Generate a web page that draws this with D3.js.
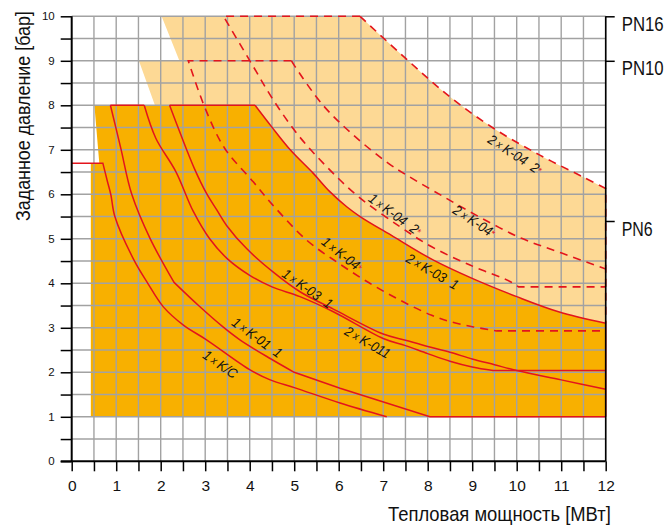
<!DOCTYPE html>
<html><head><meta charset="utf-8">
<script src="https://cdn.jsdelivr.net/npm/d3@7/dist/d3.min.js"></script>
<style>body{margin:0;background:#fff}svg{display:block}</style>
</head><body>
<svg id="chart" width="667" height="526"></svg>
<script>
// ---------- DATA ----------
const xLabels = [0,1,2,3,4,5,6,7,8,9,10,11,12];
const yLabels = [0,1,2,3,4,5,6,7,8,9,10];
const gridStep = 0.5;
const pnLevels = [10, 9, 5.4];
const pnLabels = ["PN16", "PN10", "PN6"];
const xTitle = "Тепловая мощность [МВт]";
const yTitle = "Заданное давление [бар]";

// zone outlines (x = MW, y = bar)
const darkZoneLeft = [[12,1],[0.43,1],[0.43,6.7],[0.62,6.7],[0.51,8]];
const lightZoneLeft = [[12,1],[1.87,1],[1.87,8],[1.51,9],[2.42,9],[2.02,10]];

// solid curves
const kcTop   = [[0,6.7],[0.70,6.7]];
const kcCurve = [[0.70,6.7],[0.80,6.3],[0.88,5.99],[0.97,5.5],[1.40,4.52],[1.71,4.0],[2.06,3.47],[2.51,3.06],[3.03,2.73],[4.0,2.06],[4.46,1.83],[5.02,1.65],[6.03,1.31],[7.08,1.0]];
const k01Curve1 = [[0.87,8],[1.1,7.05],[1.35,6.0],[1.76,5.01],[2.30,4.02]];
const k01Curve2 = [[2.30,4.02],[2.85,3.5],[3.4,3.02],[3.78,2.73],[4.46,2.31],[5.0,2.0]];
const k01Tail   = [[5.0,2.0],[6.03,1.64],[8.05,1.0],[12,1.0]];
const cTop   = [[0.87,8],[1.63,8]];
const cCurve = [[1.63,8],[1.89,7.26],[2.34,6.51],[2.73,5.62],[3.1,5.0],[3.5,4.55],[4.0,4.18],[4.5,3.92],[5.13,3.7],[5.88,3.36],[7.0,2.76],[7.5,2.6],[8.0,2.42],[8.5,2.25],[9.0,2.12],[9.47,2.04]];
const cTail  = [[9.47,2.04],[12,2.04]];
const dTop   = [[2.2,8],[4.12,8]];
const dCurve = [[2.2,8],[2.44,7.37],[2.77,6.55],[3.03,6.02],[3.26,5.65],[3.48,5.3],[3.93,4.78],[4.53,4.25],[5.13,3.81],[5.88,3.42],[7.0,2.86],[7.5,2.72],[8.0,2.58],[8.5,2.45],[9.0,2.3],[9.5,2.17],[10,2.04],[11,1.83],[12,1.62]];
const k03x2Curve = [[4.12,8],[4.49,7.52],[4.91,7.0],[5.43,6.47],[5.8,6.06],[6.18,5.72],[6.48,5.5],[7.23,5.05],[8.13,4.52],[9.0,4.11],[10.0,3.7],[10.94,3.36],[12,3.1]];
const k03x2Tail  = [[12,3.1],[12,1]];

// dashed curves
const l1Top   = [[4.94,9],[2.62,9]];
const l1Curve = [[2.62,9],[3.0,7.93],[3.44,7.03],[4.08,6.28],[4.5,5.78],[5.28,4.97],[6.0,4.45],[6.7,4.0],[7.38,3.62],[8.09,3.28],[8.5,3.14],[9.03,3.02],[9.55,2.93]];
const l1Tail  = [[9.55,2.93],[12,2.93]];
const l2Top   = [[6.48,10],[3.41,10]];
const l2Curve = [[3.41,10],[4.04,8.94],[4.53,8.12],[5.09,7.33],[5.73,6.62],[6.44,5.95],[7.38,5.27],[8.09,4.82],[8.95,4.41],[9.85,4.04],[10.04,3.92]];
const l2Tail  = [[10.04,3.92],[12,3.92]];
const l3Curve = [[4.94,9],[5.02,8.87],[5.65,8.0],[6.33,7.33],[7.11,6.7],[7.53,6.43],[8.35,5.95],[9.2,5.47],[10.11,5.01],[11.01,4.68],[12,4.32]];
const l4Curve = [[6.48,10],[7.53,9.03],[8.5,8.19],[9.47,7.49],[10.52,6.88],[11.49,6.39],[12,6.13]];
const l4Tail  = [[12,6.13],[12,3.1]];

// curve annotations
const curveNotes = [
  {a:"2", b:"K-04", s:"2", star:true,  x:9.96, y:6.88, r:33},
  {a:"1", b:"K-04", s:"2", star:true,  x:7.26, y:5.53, r:36},
  {a:"2", b:"K-04", s:"",  star:true,  x:9.04, y:5.38, r:33},
  {a:"1", b:"K-04", s:"",  star:true,  x:6.07, y:4.64, r:38},
  {a:"2", b:"K-03", s:"1", star:false, x:8.10, y:4.25, r:30},
  {a:"1", b:"K-03", s:"1", star:false, x:5.29, y:3.87, r:35},
  {a:"2", b:"K-011",s:"",  star:false, x:6.64, y:2.66, r:30},
  {a:"1", b:"K-01", s:"1", star:false, x:4.16, y:2.77, r:36},
  {a:"1", b:"K/C",  s:"",  star:false, x:3.33, y:2.17, r:35}
];

// ---------- DRAW ----------
const DARK = "#f8b000", LIGHT = "#fdd995", RED = "#e3141c", GRID = "#a2a2a2";
const SANS = "'Liberation Sans',Arial,sans-serif";

const svg = d3.select("#chart");
const x = d3.scaleLinear().domain([0, 12]).range([71.7, 605.7]);
const y = d3.scaleLinear().domain([0, 10]).range([461.3, 16.3]);

const lin = d3.line().x(d => x(d[0])).y(d => y(d[1]));
const smooth = d3.line().x(d => x(d[0])).y(d => y(d[1])).curve(d3.curveCatmullRom.alpha(0.5));
function join(parts) {
  return parts.map((p, i) => {
    const s = (p[1] ? smooth : lin)(p[0]);
    return i === 0 ? s : "L" + s.slice(1);
  }).join("");
}
// condensed text: squeeze horizontally to a target length
function fitted(parent, str, tx, ty, rot, target, size, anchor) {
  const t = parent.append("text").attr("font-family", SANS).attr("font-size", size)
    .attr("fill", "#111").attr("text-anchor", anchor || "start").text(str);
  const k = target / t.node().getComputedTextLength();
  t.attr("transform", `translate(${tx},${ty}) rotate(${rot}) scale(${k},1)`);
  return t;
}

// zones
svg.append("path").attr("d", join([[lightZoneLeft,false],[l4Curve,true]]) + "Z").attr("fill", LIGHT);
svg.append("path").attr("d", join([[darkZoneLeft,false],[k03x2Curve,true]]) + "Z").attr("fill", DARK);

// grid
const gridVals = d3.range(gridStep, 12 + 1e-9, gridStep);
const gridY = d3.range(gridStep, 10 + 1e-9, gridStep);
svg.append("g").selectAll("line").data(gridVals).join("line")
  .attr("x1", d => x(d)).attr("x2", d => x(d)).attr("y1", y(0)).attr("y2", y(10))
  .attr("stroke", GRID).attr("stroke-width", 1.4);
svg.append("g").selectAll("line").data(gridY).join("line")
  .attr("x1", x(0)).attr("x2", x(12)).attr("y1", d => y(d)).attr("y2", d => y(d))
  .attr("stroke", GRID).attr("stroke-width", 1.4);

// red solid lines
const solid = [
  [[kcTop,false],[kcCurve,true]],
  [[k01Curve1,true],[k01Curve2,true],[k01Tail,false]],
  [[cTop,false]],
  [[cCurve,true],[cTail,false]],
  [[dTop,false]],
  [[dCurve,true]],
  [[k03x2Curve,true],[k03x2Tail,false]]
];
svg.append("g").selectAll("path").data(solid).join("path")
  .attr("d", d => join(d)).attr("fill", "none").attr("stroke", RED).attr("stroke-width", 1.5);

const dashed = [
  [[l1Top,false],[l1Curve,true],[l1Tail,false]],
  [[l2Top,false],[l2Curve,true],[l2Tail,false]],
  [[l3Curve,true]],
  [[l4Curve,true],[l4Tail,false]]
];
svg.append("g").selectAll("path").data(dashed).join("path")
  .attr("d", d => join(d)).attr("fill", "none").attr("stroke", RED).attr("stroke-width", 1.6)
  .attr("stroke-dasharray", "8,6");

// axes
const axisG = svg.append("g");
const leftAxis = d3.axisLeft(y).tickValues(d3.range(0, 10 + 1e-9, 0.5)).tickSize(11)
  .tickFormat(d => Number.isInteger(d) ? d : "");
const gL = axisG.append("g").attr("transform", `translate(${x(0)},0)`).call(leftAxis);
gL.select(".domain").attr("stroke", "#000").attr("stroke-width", 2).attr("d", `M0,${y(0)}V${y(10)}`);
gL.selectAll(".tick line").attr("stroke", "#000").attr("stroke-width", 1.5);
gL.selectAll(".tick text").attr("font-family", SANS).attr("font-size", 11.5).attr("fill", "#111").attr("x", -17);

const bottomAxis = d3.axisBottom(x).tickValues(d3.range(0, 12 + 1e-9, 0.5)).tickSize(10)
  .tickFormat(d => Number.isInteger(d) ? d : "");
const gB = axisG.append("g").attr("transform", `translate(0,${y(0)})`).call(bottomAxis);
gB.select(".domain").attr("stroke", "#000").attr("stroke-width", 2).attr("d", `M${x(0)-11},0H${x(12)}`);
gB.selectAll(".tick line").attr("stroke", "#000").attr("stroke-width", 1.5);
gB.selectAll(".tick text").attr("font-family", SANS).attr("font-size", 15.5).attr("fill", "#111").attr("y", 19);

// right PN axis
const rightAxis = d3.axisRight(y).tickValues(pnLevels).tickSize(9).tickFormat("");
const gR = axisG.append("g").attr("transform", `translate(${x(12)},0)`).call(rightAxis);
gR.select(".domain").attr("stroke", "#000").attr("stroke-width", 1.6).attr("d", `M0,${y(0)}V${y(10)}`);
gR.selectAll(".tick line").attr("stroke", "#000").attr("stroke-width", 1.5);
pnLevels.forEach((v, i) => {
  fitted(svg, pnLabels[i], x(12) + 16, y(v) + 14.5, 0, pnLabels[i].length === 4 ? 42 : 31, 20);
});

// titles
fitted(svg, xTitle, 388, 521, 0, 223, 20.5);
fitted(svg, yTitle, 30, 221, -90, 210, 20);

// curve labels
const lab = svg.append("g").selectAll("text").data(curveNotes).join("text")
  .attr("transform", d => `translate(${x(d.x)},${y(d.y)}) rotate(${d.r}) scale(0.9,1)`)
  .attr("text-anchor", "middle").attr("dominant-baseline", "middle")
  .attr("font-family", SANS).attr("font-style", "italic").attr("font-size", 14).attr("fill", "#111");
lab.append("tspan").text(d => d.a);
lab.append("tspan").attr("font-size", 11).text(" x ");
lab.append("tspan").text(d => d.b);
lab.append("tspan").text(d => d.s ? "\u00a0\u00a0" + d.s : "");
lab.append("tspan").attr("fill", RED).attr("font-size", 10).attr("font-style", "normal")
  .text(d => d.star ? "*" : "");
</script>
</body></html>
